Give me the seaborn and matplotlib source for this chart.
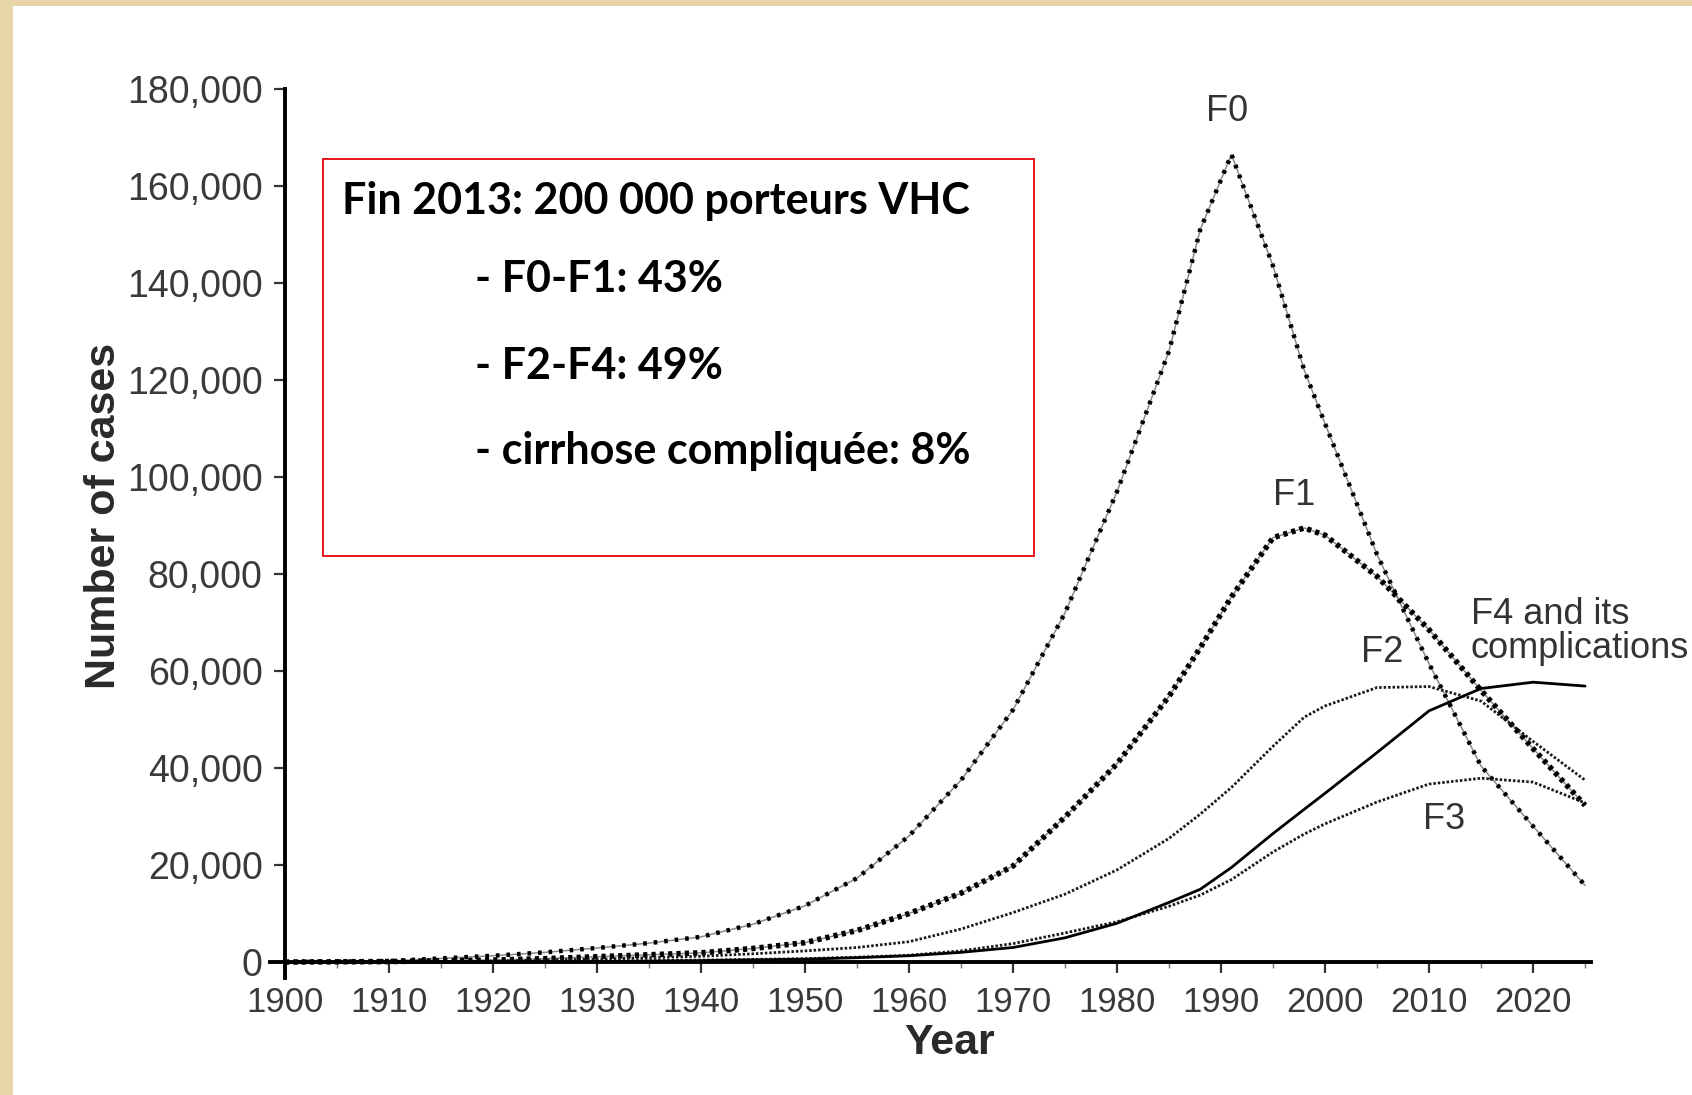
import matplotlib
matplotlib.use('Agg')
import matplotlib.pyplot as plt
from matplotlib.patches import Rectangle
from matplotlib.ticker import MultipleLocator, FuncFormatter
import seaborn as sns
import pandas as pd

# values (number of cases per fibrosis stage)
years = [1900, 1910, 1920, 1925, 1930, 1935, 1940, 1945, 1950, 1955, 1960, 1965, 1970,
         1975, 1980, 1985, 1988, 1991, 1995, 1998, 2000, 2005, 2010, 2015, 2020, 2025]
f0 = [0, 200, 1300, 2000, 2900, 3900, 5200, 7800, 11600, 17300, 26000, 37500, 52000,
      72000, 97000, 126000, 151000, 166500, 143500, 122000, 111000, 84000, 61500, 40400, 28000, 15800]
f1 = [0, 100, 400, 700, 1100, 1500, 1900, 2800, 4000, 6500, 10000, 14200, 19800,
      29900, 40900, 54800, 64800, 75300, 87500, 89500, 88000, 79500, 68500, 56000, 44000, 32300]
f2 = [0, 50, 200, 400, 600, 900, 1200, 1700, 2300, 3000, 4200, 6800, 10200,
      14000, 19000, 25500, 30500, 36000, 44500, 50500, 52800, 56600, 56800, 53800, 45500, 37500]
f3 = [0, 0, 0, 100, 200, 300, 400, 550, 700, 1000, 1400, 2300, 3800,
      6000, 8300, 11500, 13800, 17000, 22700, 26400, 28500, 33000, 36700, 37900, 37100, 32800]
f4 = [0, 0, 0, 50, 100, 200, 300, 450, 600, 900, 1300, 2000, 3000,
      5000, 8000, 12300, 15000, 19500, 26500, 31500, 34800, 43200, 51800, 56400, 57700, 56900]
stages = ['F0', 'F1', 'F2', 'F3', 'F4']

df = pd.DataFrame({
    'year': years * 5,
    'cases': f0 + f1 + f2 + f3 + f4,
    'stage': [s for s in stages for _ in years],
})

sns.set_style('ticks')
plt.rcParams['font.family'] = ['Liberation Sans', 'DejaVu Sans']
plt.rcParams['lines.scale_dashes'] = False

W, H = 1692, 1095
fig = plt.figure(figsize=(W / 100, H / 100), dpi=100, facecolor='#e8d5a7')
fig.patches.append(Rectangle((13 / W, 0), 1, 1 - 6 / H, transform=fig.transFigure,
                             facecolor='white', edgecolor='none', zorder=-5))

ax = fig.add_axes([0.1598, 0.1068, 0.7807, 0.8119])
ax.set_facecolor('white')

# gray base line + black dots for F0 / F1, fine dots for F2 / F3, solid for F4
for s in ['F0', 'F1']:
    sns.lineplot(data=df[df.stage == s], x='year', y='cases', ax=ax,
                 color='#8a8a8a', linewidth=1.1, legend=False)
sns.lineplot(data=df[df.stage == 'F0'], x='year', y='cases', ax=ax, color='black',
             linewidth=3.2, linestyle=(0, (2.6, 5.0)), legend=False)
sns.lineplot(data=df[df.stage == 'F1'], x='year', y='cases', ax=ax, color='black',
             linewidth=4.0, linestyle=(0, (3.0, 3.0)), legend=False)
for s in ['F2', 'F3']:
    sns.lineplot(data=df[df.stage == s], x='year', y='cases', ax=ax, color='#1a1a1a',
                 linewidth=2.0, linestyle=(0, (1.8, 1.4)), legend=False)
sns.lineplot(data=df[df.stage == 'F4'], x='year', y='cases', ax=ax, color='black',
             linewidth=2.0, legend=False)

ax.set_xlim(1898.6, 2025.6)
ax.set_ylim(-3300, 180000)
for side in ['top', 'right']:
    ax.spines[side].set_visible(False)
ax.spines['left'].set_position(('data', 1900))
ax.spines['bottom'].set_position(('data', 0))
for side in ['left', 'bottom']:
    ax.spines[side].set_linewidth(2.8)
    ax.spines[side].set_color('black')

ax.xaxis.set_major_locator(MultipleLocator(10))
ax.xaxis.set_minor_locator(MultipleLocator(5))
ax.set_xticks(range(1900, 2021, 10))
ax.yaxis.set_major_locator(MultipleLocator(20000))
ax.yaxis.set_major_formatter(FuncFormatter(lambda v, p: f'{int(v):,}'))
ax.tick_params(axis='y', direction='out', length=8, width=1.6, color='#333333',
               labelsize=27, labelcolor='#3a3a3a', pad=8)
ax.tick_params(axis='x', which='major', direction='out', length=8, width=1.6,
               color='#333333', labelsize=25, labelcolor='#3a3a3a', pad=9)
ax.tick_params(axis='x', which='minor', direction='out', length=4, width=1.0, color='#777777')

ax.set_xlabel('Year', fontsize=31, fontweight='bold', color='#2a2a2a')
ax.set_ylabel('Number of cases', fontsize=31, fontweight='bold', color='#2a2a2a')
ax.xaxis.set_label_coords(0.514, -0.050)
ax.yaxis.set_label_coords(-0.111, 0.52)

lab = dict(fontsize=26, color='#333333', ha='center', va='center')
ax.text(1990.6, 175400, 'F0', **lab)
ax.text(1997.0, 96200, 'F1', **lab)
ax.text(2005.5, 63800, 'F2', **lab)
ax.text(2011.4, 29300, 'F3', **lab)
ax.text(2014.0, 68100, 'F4 and its\ncomplications', fontsize=26, color='#333333',
        ha='left', va='center', linespacing=0.95)

# red annotation box
fig.patches.append(Rectangle((323 / W, 1 - 556 / H), (1034 - 323) / W, (556 - 159) / H,
                             transform=fig.transFigure, fill=False, edgecolor='#e8141c',
                             linewidth=1.4, zorder=5))
box_font = dict(family=['Lato', 'DejaVu Sans'], fontweight='bold', fontsize=31,
                color='black', va='baseline', ha='left')
fig.text(342 / W, 1 - 214 / H, 'Fin 2013: 200 000 porteurs VHC', **box_font)
fig.text(475 / W, 1 - 292 / H, '- F0-F1: 43%', **box_font)
fig.text(475 / W, 1 - 379 / H, '- F2-F4: 49%', **box_font)
fig.text(475 / W, 1 - 464 / H, '- cirrhose compliquée: 8%', **box_font)

fig.savefig('out.png', dpi=100, facecolor=fig.get_facecolor())
